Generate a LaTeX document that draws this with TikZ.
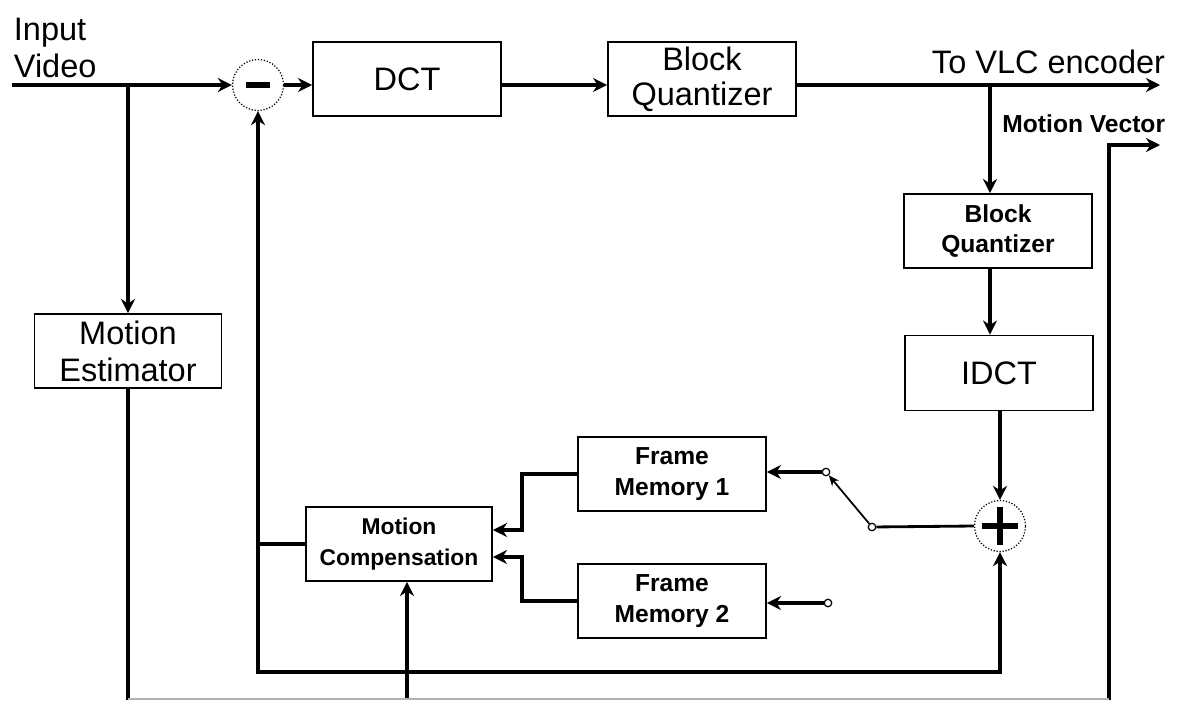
\documentclass[tikz,border=0pt]{standalone}
\usepackage{fontspec}
\setmainfont{Liberation Sans}
\usetikzlibrary{arrows.meta,calc,positioning}

\begin{document}
\begin{tikzpicture}[x=0.02cm,y=-0.02cm,>={Stealth[length=8pt,width=8pt]},line width=2.2pt,
	blk/.style={draw,line width=1.1pt,inner sep=1pt,align=center,minimum width=3.76cm,minimum height=1.48cm,
		font=\fontsize{18.5}{20}\selectfont},
	sblk/.style={blk,font=\bfseries\fontsize{14}{17.5}\selectfont},
	sumnode/.style={circle,draw,densely dotted,line width=0.7pt,minimum size=1.02cm,inner sep=0pt},
	term/.style={circle,draw,fill=white,line width=0.7pt,minimum size=0.15cm,inner sep=0pt},
	lbl/.style={inner sep=0pt,font=\fontsize{18.5}{21}\selectfont}]
\useasboundingbox (0,0) rectangle (1180,700);

% blocks
\node[blk] (DCT) at (407,79) {DCT};
\node[blk] (BQa) at (702,79) {Block\\Quantizer};
\node[sblk] (BQb) at (998,231) {Block\\Quantizer};
\node[blk,minimum height=1.5cm] (IDCT) at (999,373) {IDCT};
\node[blk,font=\fontsize{18.5}{21}\selectfont,minimum width=3.74cm] (ME) at (128,351) {Motion\\Estimator};
\node[sblk,minimum width=3.72cm,font=\bfseries\fontsize{13}{17.5}\selectfont] (MC) at (399,544) {Motion\\Compensation};
\node[sblk] (FMa) at (672,474) {Frame\\Memory 1};
\node[sblk] (FMb) at (672,601) {Frame\\Memory 2};

% adders and switch
\node[sumnode] (sub) at (258,85) {};
\node[sumnode] (add) at (1000,526) {};
\draw[line width=3.5pt] ($(sub.center)+(-12,0)$) -- ($(sub.center)+(12,0)$);
\draw[line width=3.5pt] ($(add.center)+(-18,0)$) -- ($(add.center)+(18,0)$);
\draw[line width=3.5pt] ($(add.center)+(0,-19)$) -- ($(add.center)+(0,19)$);
\node[term] (ta) at (826,472) {};
\node[term] (tb) at (872,527) {};
\node[term] (tc) at (828,603) {};

% labels
\node[lbl,anchor=north west,align=left] (invid) at (12,16) {Input\\Video};
\node[lbl,anchor=base east] (vlctext) at (1167,73) {To VLC encoder};
\node[lbl,anchor=base east,font=\bfseries\fontsize{14}{17}\selectfont] (mvtext) at (1167,132) {Motion Vector};

\coordinate (in) at (12,85);
\coordinate (tap) at (128,85);
\coordinate (br) at (990,85);
\coordinate (vlc) at (1160,85);
\coordinate (mv) at (1160,145);
\coordinate (meb) at (128,700);
\coordinate (mcb) at (407,700);
\coordinate (mvb) at (1109,700);
\coordinate (fbb) at (258,672);

% forward path
\draw[->] (in) -- (sub.west);
\draw[->] (tap) -- (ME.north);
\draw[->] (sub.east) -- (sub.east -| DCT.west);
\draw[->] (DCT.east |- sub.east) -- (BQa.west |- sub.east);
\draw[->] (BQa.east |- sub.east) -- (vlc);
\draw[->] (br) -- (br |- BQb.north);
\draw[->] (BQb.south -| br) -- (IDCT.north -| br);
\draw[->] (IDCT.south -| add) -- (add.north);

% motion vectors
\draw (ME.south) -- (meb);
\draw[->] (mvb) -- (mvb |- mv) -- (mv);
\draw[->] (mcb) -- (MC.south -| mcb);
\draw[gray!60,line width=0.8pt] ($(meb)+(0,-1)$) -- ($(mvb)+(0,-1)$);

% feedback
\draw[->] (MC.west) -| (sub.south);
\draw[->] (MC.west -| sub.south) -- (fbb) -| (add.south);
\draw[->] (FMa.west) -- ++(-55,0) |- ($(MC.east)+(0,-14)$);
\draw[->] (FMb.west) -- ++(-55,0) |- ($(MC.east)+(0,13)$);
\draw[->] (ta) -- (ta -| FMa.east);
\draw[->] (tc) -- (tc -| FMb.east);
\draw[line width=1.6pt] (tb) -- (add.west);
\draw[->,line width=1pt,>={Stealth[length=6pt,width=5pt]}] (tb) -- (ta);
\end{tikzpicture}
\end{document}
